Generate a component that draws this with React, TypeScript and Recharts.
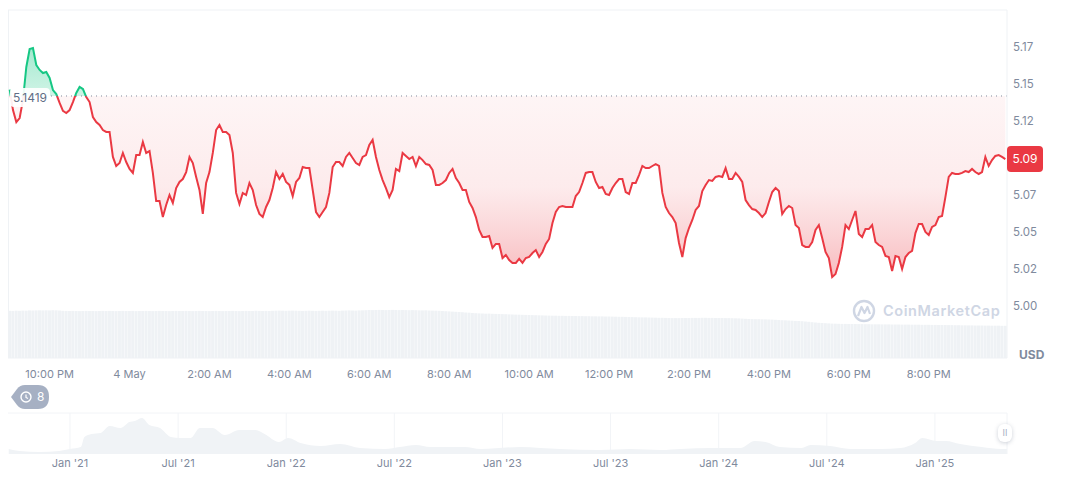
import React from 'react';
import {
  ComposedChart,
  AreaChart,
  Area,
  Bar,
  XAxis,
  YAxis,
  CartesianGrid,
  ReferenceLine,
} from 'recharts';

const FONT = 'Inter, sans-serif';
const GRID = '#eff2f5';
const MUTED = '#808a9d';
const RED = '#ea3943';
const GREEN = '#16c784';

const BASE_PRICE = 5.1419;

// 5 minute samples, first one at 9:00 PM
const prices = [
  5.1462, 5.1324, 5.1243, 5.1270, 5.1392, 5.1615, 5.1736, 5.1743, 5.1628, 5.1595,
  5.1574, 5.1581, 5.1541, 5.1459, 5.1432, 5.1372, 5.1318, 5.1304, 5.1324, 5.1378,
  5.1439, 5.1480, 5.1466, 5.1412, 5.1378, 5.1277, 5.1243, 5.1223, 5.1189, 5.1176,
  5.1176, 5.1007, 5.0946, 5.0966, 5.1034, 5.0973, 5.0926, 5.0899, 5.1020, 5.1020,
  5.1108, 5.1034, 5.1047, 5.0899, 5.0709, 5.0709, 5.0601, 5.0682, 5.0750, 5.0696,
  5.0797, 5.0838, 5.0858, 5.0905, 5.1007, 5.0966, 5.0872, 5.0784, 5.0622, 5.0831,
  5.0905, 5.1034, 5.1189, 5.1223, 5.1176, 5.1176, 5.1155, 5.1034, 5.0764, 5.0689,
  5.0764, 5.0750, 5.0831, 5.0784, 5.0682, 5.0622, 5.0601, 5.0669, 5.0716, 5.0797,
  5.0905, 5.0858, 5.0892, 5.0838, 5.0818, 5.0743, 5.0838, 5.0865, 5.0939, 5.0932,
  5.0932, 5.0784, 5.0635, 5.0601, 5.0635, 5.0669, 5.0764, 5.0939, 5.0973, 5.0973,
  5.0946, 5.1007, 5.1034, 5.1000, 5.0966, 5.0953, 5.1007, 5.1020, 5.1088, 5.1122,
  5.1007, 5.0919, 5.0851, 5.0797, 5.0736, 5.0784, 5.0926, 5.0912, 5.1034, 5.1014,
  5.0993, 5.1007, 5.0946, 5.1007, 5.0986, 5.0959, 5.0953, 5.0919, 5.0818, 5.0818,
  5.0831, 5.0851, 5.0899, 5.0926, 5.0865, 5.0831, 5.0784, 5.0784, 5.0703, 5.0662,
  5.0601, 5.0514, 5.0466, 5.0466, 5.0473, 5.0392, 5.0419, 5.0419, 5.0324, 5.0345,
  5.0311, 5.0291, 5.0291, 5.0318, 5.0291, 5.0324, 5.0331, 5.0358, 5.0378, 5.0331,
  5.0365, 5.0419, 5.0453, 5.0561, 5.0635, 5.0669, 5.0676, 5.0669, 5.0669, 5.0669,
  5.0743, 5.0770, 5.0831, 5.0899, 5.0905, 5.0905, 5.0838, 5.0797, 5.0804, 5.0757,
  5.0750, 5.0797, 5.0831, 5.0858, 5.0858, 5.0770, 5.0757, 5.0831, 5.0831, 5.0885,
  5.0946, 5.0932, 5.0932, 5.0946, 5.0959, 5.0946, 5.0764, 5.0669, 5.0628, 5.0601,
  5.0561, 5.0426, 5.0331, 5.0459, 5.0527, 5.0581, 5.0649, 5.0676, 5.0777, 5.0818,
  5.0851, 5.0845, 5.0872, 5.0878, 5.0872, 5.0932, 5.0858, 5.0858, 5.0899, 5.0872,
  5.0838, 5.0716, 5.0682, 5.0655, 5.0649, 5.0628, 5.0601, 5.0628, 5.0703, 5.0770,
  5.0797, 5.0777, 5.0622, 5.0655, 5.0676, 5.0662, 5.0547, 5.0527, 5.0412, 5.0399,
  5.0399, 5.0432, 5.0514, 5.0547, 5.0459, 5.0365, 5.0324, 5.0196, 5.0216, 5.0291,
  5.0399, 5.0547, 5.0520, 5.0581, 5.0642, 5.0486, 5.0466, 5.0520, 5.0520, 5.0547,
  5.0432, 5.0412, 5.0399, 5.0338, 5.0331, 5.0236, 5.0338, 5.0331, 5.0250, 5.0331,
  5.0358, 5.0372, 5.0493, 5.0554, 5.0554, 5.0500, 5.0480, 5.0534, 5.0547, 5.0601,
  5.0608, 5.0736, 5.0872, 5.0899, 5.0892, 5.0892, 5.0899, 5.0912, 5.0905, 5.0926,
  5.0905, 5.0892, 5.0905, 5.1007, 5.0946, 5.0986, 5.1014, 5.1020, 5.1007, 5.0993,
];

const volumes = [
  47.2, 47.1, 47.3, 47.2, 47.4, 47.3, 47.6, 47.5, 47.6, 47.7, 47.6, 47.7, 47.6, 47.8, 47.7, 47.5, 47.2, 47.1, 47.0, 47.1,
  47.0, 46.9, 47.0, 47.1, 47.0, 47.0, 46.9, 47.0, 47.1, 47.0, 47.1, 47.0, 46.9, 47.0, 47.1, 47.0, 47.0, 47.1, 46.9, 47.0,
  47.0, 47.1, 47.0, 46.9, 47.0, 47.1, 47.0, 47.0, 46.9, 47.0, 47.1, 47.0, 47.0, 47.1, 47.0, 46.9, 47.0, 47.1, 47.0, 47.0,
  46.9, 47.0, 47.1, 47.0, 46.9, 47.0, 47.0, 47.1, 47.0, 46.9, 47.0, 47.1, 47.0, 47.0, 47.2, 47.1, 47.0, 47.1, 47.0, 47.2,
  47.3, 47.4, 47.3, 47.2, 47.3, 47.4, 47.3, 47.2, 47.1, 47.2, 47.3, 47.2, 47.1, 47.2, 47.3, 47.2, 47.3, 47.4, 47.3, 47.2,
  47.4, 47.5, 47.6, 47.5, 47.4, 47.6, 47.7, 47.8, 48.0, 47.9, 48.0, 48.1, 48.0, 47.9, 48.0, 48.1, 48.0, 47.9, 48.0, 47.9,
  47.8, 47.9, 47.8, 47.7, 47.6, 47.7, 47.5, 47.4, 47.3, 47.2, 47.0, 46.8, 46.6, 46.4, 46.2, 46.0, 45.8, 45.5, 45.3, 45.0,
  44.8, 44.6, 44.5, 44.3, 44.4, 44.2, 44.1, 44.0, 43.9, 43.8, 43.6, 43.5, 43.4, 43.3, 43.2, 43.1, 43.0, 42.9, 42.8, 42.7,
  42.6, 42.5, 42.4, 42.3, 42.3, 42.2, 42.2, 42.1, 42.1, 42.0, 42.0, 41.9, 41.9, 41.8, 41.8, 41.7, 41.7, 41.6, 41.6, 41.5,
  41.5, 41.4, 41.3, 41.2, 41.2, 41.1, 41.0, 40.9, 40.8, 40.7, 40.6, 40.6, 40.5, 40.4, 40.3, 40.2, 40.2, 40.1, 40.0, 39.9,
  39.9, 39.9, 40.0, 40.0, 40.0, 40.1, 40.1, 40.1, 40.2, 40.2, 40.1, 40.1, 40.0, 40.0, 40.0, 39.9, 39.9, 39.8, 39.7, 39.6,
  39.4, 39.2, 39.0, 38.9, 38.8, 38.8, 38.7, 38.6, 38.5, 38.4, 38.2, 38.0, 37.8, 37.7, 37.5, 37.3, 37.1, 37.0, 36.8, 36.5,
  36.2, 35.8, 35.5, 35.2, 35.0, 34.8, 34.6, 34.4, 34.3, 34.2, 34.1, 34.1, 34.0, 34.0, 34.0, 33.9, 33.9, 33.8, 33.8, 33.7,
  33.7, 33.7, 33.6, 33.6, 33.6, 33.5, 33.5, 33.5, 33.4, 33.4, 33.4, 33.3, 33.3, 33.3, 33.2, 33.2, 33.2, 33.1, 33.1, 33.0,
  33.0, 33.0, 32.9, 32.9, 32.8, 32.8, 32.7, 32.7, 32.6, 32.6, 32.5, 32.5, 32.5, 32.4, 32.4, 32.3, 32.3, 32.3, 32.2, 32.2,
];

const priceTicks = [5.0, 5.025, 5.05, 5.075, 5.1, 5.125, 5.15, 5.175, 5.2];
const timeTicks = [60, 180, 300, 420, 540, 660, 780, 900, 1020, 1140, 1260, 1380];
const timeLabels = [
  '10:00 PM', '4 May', '2:00 AM', '4:00 AM', '6:00 AM', '8:00 AM',
  '10:00 AM', '12:00 PM', '2:00 PM', '4:00 PM', '6:00 PM', '8:00 PM',
];

// long range navigator, x is months since Jan '21
const navMonths = [
  -3.4, -2.8, -1.7, -0.6, 0, 0.6, 0.8, 1.2, 1.7, 2.2, 2.8, 3.3, 3.6, 4, 4.4, 5, 5.6, 6.1, 6.7, 7.2,
  7.9, 8.6, 9.4, 10.3, 10.8, 11.6, 12.1, 12.8, 13.9, 15, 16.1, 17.5, 18.3, 19.2, 20, 21.9, 22.8, 25, 26.1, 27.2,
  29.4, 31.1, 32.8, 33.9, 35.6, 37.2, 38, 38.6, 39.4, 40.6, 41.1, 42.2, 43.3, 45, 46.1, 46.9, 47.3, 48.1, 48.6, 49.4,
  50.6, 51.7, 52,
];
const navValues = [
  5, 3, 2, 3, 5, 7, 17, 20, 21, 28, 26, 32, 33, 36, 29, 26, 17, 16, 16, 26,
  26, 19, 24, 24, 20, 12, 16, 11, 8, 10, 6, 5, 7, 9, 7, 7, 5, 7, 6, 5,
  4, 5, 4, 5, 6, 6, 13, 12, 7, 6, 9, 8, 5, 5, 6, 11, 16, 13, 13, 10,
  7, 5, 5,
];
const navTicks = [0, 6, 12, 18, 24, 30, 36, 42, 48];
const navLabels = ["Jan '21", "Jul '21", "Jan '22", "Jul '22", "Jan '23", "Jul '23", "Jan '24", "Jul '24", "Jan '25"];

const priceData = prices.map((price, i) => ({ minute: i * 5, price, volume: volumes[i] }));
const navData = navMonths.map((month, i) => ({ month, value: navValues[i] }));

// where the base price sits inside the 10..358 plot, for the colour split
const SPLIT = '24.71%';

const App = () => {
  return (
    <div style={{ position: 'absolute', left: 0, top: 0, width: 1072, height: 477, background: '#fff', fontFamily: FONT, overflow: 'hidden' }}>
      <div style={{ position: 'absolute', left: 8, top: 10, width: 1, height: 348, background: GRID }} />

      <div style={{ position: 'absolute', left: 0, top: 0 }}>
        <ComposedChart width={1072} height={400} data={priceData} margin={{ top: 10, right: 0, bottom: 0, left: 8 }}>
          <defs>
            <linearGradient id="priceStroke" gradientUnits="userSpaceOnUse" x1="0" y1="10" x2="0" y2="358">
              <stop offset={SPLIT} stopColor={GREEN} />
              <stop offset={SPLIT} stopColor={RED} />
            </linearGradient>
            <linearGradient id="priceFill" gradientUnits="userSpaceOnUse" x1="0" y1="10" x2="0" y2="358">
              <stop offset="10%" stopColor={GREEN} stopOpacity={0.4} />
              <stop offset={SPLIT} stopColor={GREEN} stopOpacity={0.2} />
              <stop offset={SPLIT} stopColor={RED} stopOpacity={0.05} />
              <stop offset="51%" stopColor={RED} stopOpacity={0.1} />
              <stop offset="63%" stopColor={RED} stopOpacity={0.2} />
              <stop offset="72%" stopColor={RED} stopOpacity={0.29} />
              <stop offset="78%" stopColor={RED} stopOpacity={0.33} />
            </linearGradient>
          </defs>
          <CartesianGrid vertical={false} stroke={GRID} />
          <XAxis
            dataKey="minute"
            type="category"
            ticks={timeTicks}
            interval={0}
            height={42}
            axisLine={false}
            tickSize={0}
            tickMargin={12}
            tick={{ fill: MUTED, fontSize: 11, fontFamily: FONT }}
            tickFormatter={(m: number) => timeLabels[timeTicks.indexOf(m)]}
          />
          <YAxis
            yAxisId="price"
            orientation="right"
            width={65}
            domain={[4.96486, 5.2]}
            ticks={priceTicks}
            axisLine={{ stroke: GRID }}
            tickSize={0}
            tickMargin={6}
            tick={{ fill: MUTED, fontSize: 11.5, fontFamily: FONT, textAnchor: 'start' }}
            tickFormatter={(v: number) => {
              // the 5.10 label sits under the price badge, 5.20 is not shown
              if (v === 5.1 || v === 5.2) return '';
              return (Math.floor(v * 100 + 1e-6) / 100).toFixed(2);
            }}
          />
          <YAxis yAxisId="volume" hide domain={[0, 348]} />
          <Bar yAxisId="volume" dataKey="volume" fill={GRID} barSize={3} isAnimationActive={false} />
          <Area
            yAxisId="price"
            type="linear"
            dataKey="price"
            baseValue={BASE_PRICE}
            stroke="url(#priceStroke)"
            strokeWidth={2}
            fill="url(#priceFill)"
            fillOpacity={1}
            dot={false}
            activeDot={false}
            isAnimationActive={false}
          />
          <ReferenceLine yAxisId="price" y={BASE_PRICE} stroke={MUTED} strokeDasharray="1 4" />
        </ComposedChart>
      </div>

      <div style={{ position: 'absolute', left: 10, top: 88, width: 40, height: 19, background: 'rgba(255,255,255,0.92)', borderRadius: 4, color: '#616e85', fontSize: 12, lineHeight: '19px', textAlign: 'center' }}>
        5.1419
      </div>

      <div style={{ position: 'absolute', left: 1007, top: 146, width: 36, height: 26, background: RED, borderRadius: 4, color: '#fff', fontSize: 12, lineHeight: '26px', textAlign: 'center' }}>
        5.09
      </div>

      <div style={{ position: 'absolute', left: 1019, top: 347, color: MUTED, fontSize: 12, fontWeight: 700, lineHeight: '16px' }}>USD</div>

      <svg style={{ position: 'absolute', left: 850, top: 298 }} width={150} height={26}>
        <circle cx={14} cy={13} r={10} fill="none" stroke="#cfd6e4" strokeWidth={2.4} />
        <path d="M8 18 L11.5 9 L14.5 15 L17.5 9 L20 16" fill="none" stroke="#cfd6e4" strokeWidth={2.2} strokeLinejoin="round" />
        <text x={33} y={18} fill="#cfd6e4" fontSize={14.5} fontWeight={600} fontFamily={FONT} letterSpacing={0.6}>CoinMarketCap</text>
      </svg>

      <svg style={{ position: 'absolute', left: 10, top: 384 }} width={42} height={26}>
        <path d="M1 13 L7 5 Q10 1 15 1 L28 1 Q39 1 39 13 Q39 25 28 25 L15 25 Q10 25 7 21 Z" fill="#a6b0c3" />
        <circle cx={16} cy={13} r={5} fill="none" stroke="#fff" strokeWidth={1.4} />
        <path d="M16 10.5 L16 13.5 L18 14.5" fill="none" stroke="#fff" strokeWidth={1.2} />
        <text x={27} y={17} fill="#fff" fontSize={12} fontFamily={FONT}>8</text>
      </svg>

      <div style={{ position: 'absolute', left: 0, top: 400 }}>
        <AreaChart width={1072} height={77} data={navData} margin={{ top: 13, right: 65, bottom: 0, left: 8 }}>
          <CartesianGrid horizontal={false} stroke="#f2f4f7" verticalValues={navTicks} />
          <XAxis
            dataKey="month"
            type="number"
            domain={[-3.44, 52]}
            ticks={navTicks}
            interval={0}
            height={23}
            axisLine={false}
            tickSize={0}
            tickMargin={5}
            tick={{ fill: MUTED, fontSize: 11, fontFamily: FONT }}
            tickFormatter={(m: number) => navLabels[navTicks.indexOf(m)]}
          />
          <YAxis hide domain={[0, 41]} />
          <ReferenceLine y={41} stroke="#f2f4f7" />
          <ReferenceLine x={52} stroke="#f2f4f7" />
          <Area type="monotone" dataKey="value" stroke="none" fill="#f0f3f6" fillOpacity={1} dot={false} activeDot={false} isAnimationActive={false} />
        </AreaChart>
      </div>

      <div style={{ position: 'absolute', left: 998, top: 424, width: 14, height: 18, background: '#fff', borderRadius: 6, boxShadow: '0 1px 4px rgba(88,102,126,0.3)', color: '#a6b0c3', fontSize: 9, lineHeight: '18px', textAlign: 'center' }}>
        II
      </div>
    </div>
  );
};

export default App;
